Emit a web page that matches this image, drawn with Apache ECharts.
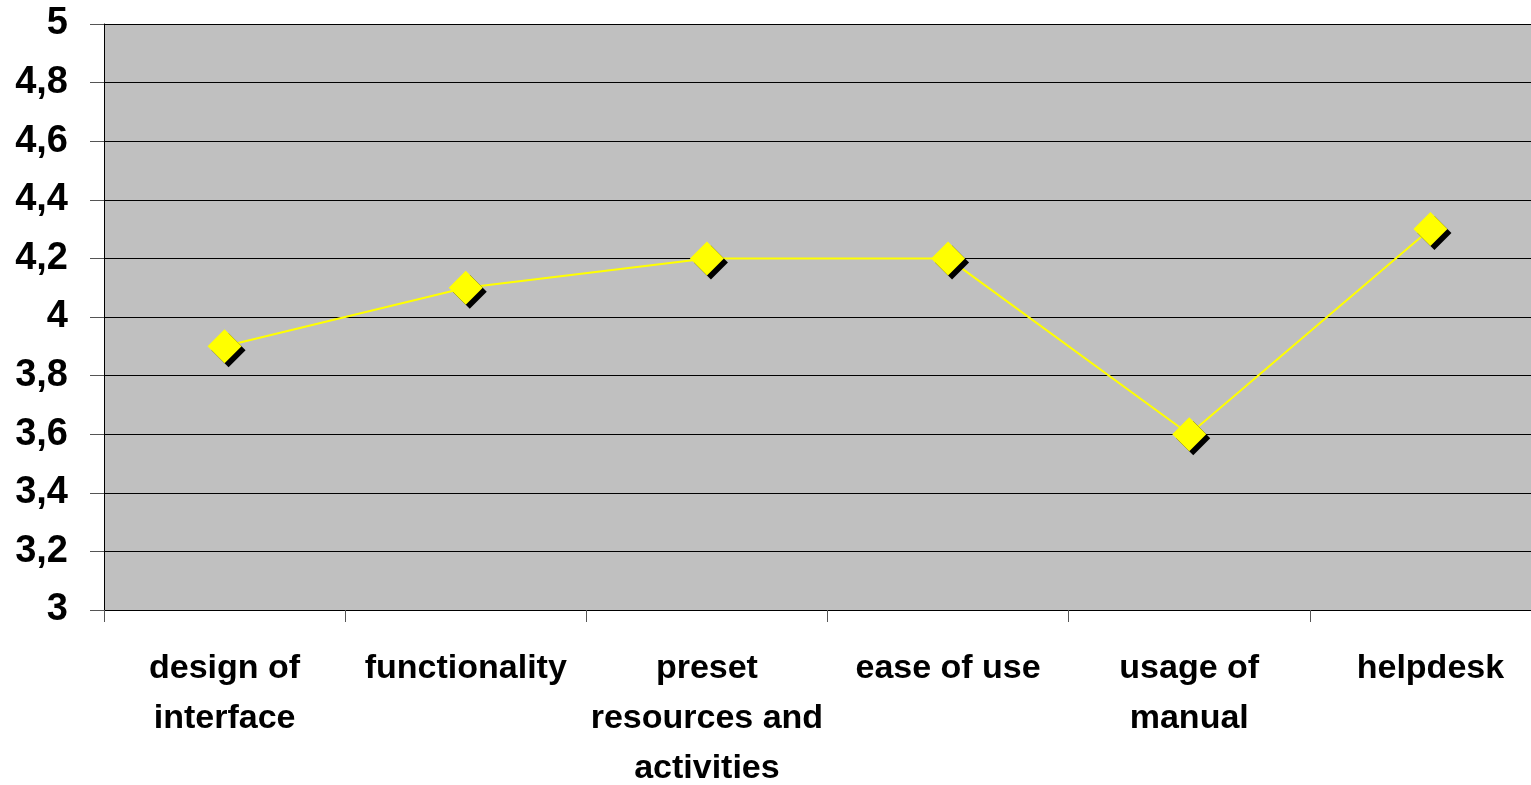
<!DOCTYPE html>
<html><head><meta charset="utf-8">
<script src="https://cdn.jsdelivr.net/npm/echarts@6/dist/echarts.min.js"></script>
<style>html,body{margin:0;padding:0;background:#fff}#c{width:1531px;height:785px}</style>
</head><body><div id="c"></div>
<script>
const categories = ["design of\ninterface", "functionality", "preset\nresources and\nactivities", "ease of use", "usage of\nmanual", "helpdesk"];
const values = [3.9, 4.1, 4.2, 4.2, 3.6, 4.3];
const yTicks = {min: 3, max: 5, interval: 0.2};

const chart = echarts.init(document.getElementById('c'), null, {renderer: 'canvas'});
const font = '"Liberation Sans", Arial, sans-serif';
chart.setOption({
  animation: false,
  grid: {left: 104, right: -20, top: 24, bottom: 175, show: true, backgroundColor: '#C0C0C0', borderWidth: 0,
    containLabel: false, outerBoundsMode: 'none'},
  xAxis: {
    type: 'category', data: categories, boundaryGap: true,
    axisLine: {lineStyle: {color: '#000', width: 1}},
    axisTick: {show: true, length: 12, lineStyle: {color: '#555'}},
    axisLabel: {color: '#000', fontFamily: font, fontWeight: 'bold', fontSize: 34, lineHeight: 50, margin: 34, interval: 0}
  },
  yAxis: {
    type: 'value', min: yTicks.min, max: yTicks.max, interval: yTicks.interval,
    axisLine: {show: true, lineStyle: {color: '#000', width: 1}},
    axisTick: {show: true, length: 14, lineStyle: {color: '#555'}},
    splitLine: {lineStyle: {color: '#000', width: 1}},
    axisLabel: {color: '#000', fontFamily: font, fontWeight: 'bold', fontSize: 38, margin: 36, padding: [6, 0, 0, 0],
      formatter: v => String(Math.round(v*10)/10).replace('.', ',')}
  },
  series: [{
    type: 'line', data: values,
    lineStyle: {color: '#FFFF00', width: 2},
    symbol: 'diamond', symbolSize: [34, 34], showSymbol: true,
    itemStyle: {color: '#FFFF00', shadowColor: '#000', shadowOffsetX: 4, shadowOffsetY: 4, shadowBlur: 0}
  }]
});
</script></body></html>
